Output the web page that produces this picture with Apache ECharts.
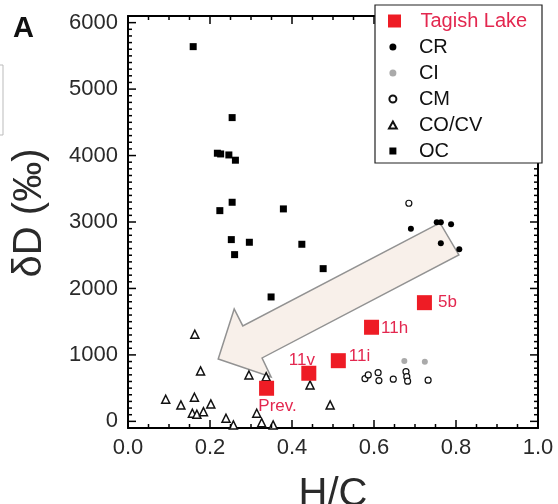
<!DOCTYPE html>
<html>
<head>
<meta charset="utf-8">
<script src="https://cdn.jsdelivr.net/npm/echarts@6/dist/echarts.min.js"></script>
<style>
  html, body { margin: 0; padding: 0; background: #fff; }
  #chart { width: 558px; height: 504px; }
</style>
</head>
<body>
<div id="chart"></div>
<script>
// values (H/C vs deltaD)
var tagishX = [0.723, 0.594, 0.513, 0.441, 0.338];
var tagishY = [1786, 1416, 913, 724, 498];
var tagishNames = ['5b', '11h', '11i', '11v', 'Prev.'];

var crX = [0.690, 0.753, 0.763, 0.788, 0.763, 0.808];
var crY = [2900, 2996, 2996, 2966, 2680, 2590];

var ciX = [0.674, 0.724];
var ciY = [909, 898];

var cmX = [0.685, 0.578, 0.586, 0.610, 0.612, 0.647, 0.678, 0.680, 0.682, 0.732];
var cmY = [3282, 643, 698, 733, 613, 634, 748, 673, 604, 619];

var cocvX = [0.092, 0.129, 0.162, 0.157, 0.168, 0.184, 0.202, 0.239, 0.257, 0.314, 0.326, 0.354, 0.163, 0.177, 0.295, 0.337, 0.444, 0.493];
var cocvY = [333, 247, 363, 122, 107, 146, 262, 47, -54, 122, -20, -54, 1311, 759, 698, 673, 548, 247];

var ocX = [0.159, 0.254, 0.218, 0.226, 0.246, 0.262, 0.254, 0.224, 0.379, 0.252, 0.296, 0.424, 0.260, 0.476, 0.349];
var ocY = [5639, 4571, 4035, 4024, 4009, 3930, 3297, 3171, 3197, 2735, 2695, 2665, 2509, 2298, 1872];

// big hollow arrow, in data units
var arrowX = [0.761, 0.280, 0.259, 0.220, 0.349, 0.327, 0.807];
var arrowY = [2986, 1436, 1692, 939, 668, 954, 2504];

// tick marks: minor every 100 / 0.05, major every 1000 / 0.2
var yTickVals = [];
for (var v = 0; v <= 6000; v += 100) yTickVals.push(v);
var xTickVals = [];
for (var k = 0; k <= 20; k++) xTickVals.push(k / 20);

function pairs(xs, ys) {
    return xs.map(function (x, i) { return [x, ys[i]]; });
}

var FONT = 'Liberation Sans, Arial, sans-serif';
var RED = '#ee1c25';
var LABEL_RED = '#e3274f';
var TXT = '#2a2a2a';

// plot box in pixels; y runs -100..6100 so the 0..6000 ticks sit a bit inside
var L = 128, T = 16, R = 538, B = 428;
var yLo = -100, yHi = 6100;
var pxPerUnit = (B - T) / (yHi - yLo);

// label placement for the Tagish Lake points
var labelPlace = {
    '5b': { position: 'right', distance: 6, offset: [0, 0] },
    '11h': { position: 'right', distance: 2, offset: [0, 1] },
    '11i': { position: 'right', distance: 3, offset: [0, -4] },
    '11v': { position: 'top', distance: 0, offset: [-7, 3] },
    'Prev.': { position: 'bottom', distance: 2, offset: [11, 0] }
};

var tagishData = tagishX.map(function (x, i) {
    var p = labelPlace[tagishNames[i]];
    return {
        value: [x, tagishY[i], tagishNames[i]],
        label: { position: p.position, distance: p.distance, offset: p.offset }
    };
});

var SQUARE = 'path://M0,0L10,0L10,10L0,10Z';
var TRI = 'path://M5,0L10,9L0,9Z';

var chart = echarts.init(document.getElementById('chart'));

var frameLine = { show: true, onZero: false, lineStyle: { color: '#000', width: 2 } };

function xAxisDef(pos, showLabel, extra) {
    var a = {
        type: 'value', gridIndex: 0, position: pos, min: 0, max: 1, interval: 0.2,
        splitLine: { show: false }, axisLine: frameLine, axisTick: { show: false },
        axisLabel: { show: showLabel, margin: 9, fontSize: 22, color: TXT, fontFamily: FONT,
            formatter: function (v) { return v.toFixed(1); } }
    };
    return Object.assign(a, extra || {});
}

function yFrame(pos) {
    return {
        type: 'value', gridIndex: 0, position: pos, min: yLo, max: yHi,
        splitLine: { show: false }, axisLine: frameLine,
        axisTick: { show: false }, axisLabel: { show: false }
    };
}

// label axis on a grid that spans exactly 0..6000
function yLabels(pos, showLabel) {
    return {
        type: 'value', gridIndex: 1, position: pos, min: 0, max: 6000, interval: 1000,
        splitLine: { show: false }, axisLine: { show: false }, axisTick: { show: false },
        axisLabel: { show: showLabel, margin: 10, fontSize: 22, color: TXT, fontFamily: FONT,
            formatter: function (v) { return String(v); } }
    };
}

function tickLine(x1, y1, x2, y2) {
    return { type: 'line', shape: { x1: x1, y1: y1, x2: x2, y2: y2 },
             style: { stroke: '#000', lineWidth: 1.5 } };
}

var option = {
    animation: false,
    backgroundColor: '#fff',
    grid: [
        { left: L, top: T, width: R - L, height: B - T, outerBoundsMode: 'none', containLabel: false },
        { left: L, top: T + (yHi - 6000) * pxPerUnit, width: R - L,
          height: 6000 * pxPerUnit, outerBoundsMode: 'none', containLabel: false }
    ],
    xAxis: [
        xAxisDef('bottom', true, {
            name: 'H/C', nameLocation: 'middle', nameGap: 47,
            nameTextStyle: { fontSize: 40, color: TXT, fontFamily: FONT }
        }),
        xAxisDef('top', false),
        { type: 'value', gridIndex: 1, min: 0, max: 1, show: false }
    ],
    yAxis: [
        yFrame('left'),
        yFrame('right'),
        yLabels('left', true),
        yLabels('right', false)
    ],
    legend: [
        {
            z: 8, left: 388, top: 11, padding: 0, orient: 'vertical',
            itemWidth: 42, itemHeight: 13, selectedMode: false, symbolKeepAspect: true,
            textStyle: { fontSize: 20, fontFamily: FONT, color: LABEL_RED },
            data: [{ name: 'Tagish Lake', icon: SQUARE }]
        },
        {
            z: 8, left: 388, top: 37, padding: 0, orient: 'vertical', itemGap: 6,
            itemWidth: 42, itemHeight: 7, selectedMode: false, symbolKeepAspect: true,
            textStyle: { fontSize: 20, fontFamily: FONT, color: '#111' },
            data: ['CR', 'CI', 'CM', { name: 'CO/CV', icon: TRI }, { name: 'OC', icon: SQUARE }]
        }
    ],
    graphic: [
        { type: 'rect', z: 6, shape: { x: 375, y: 5, width: 167, height: 158 },
          style: { fill: '#fff', stroke: '#222', lineWidth: 1.2 } },
        { type: 'text', left: 13, top: 14, z: 6,
          style: { text: 'A', font: 'bold 29px ' + FONT, fill: '#111' } },
        { type: 'text', x: 30, y: 213, rotation: Math.PI / 2, z: 6,
          style: { text: 'δD (‰)', font: '40px ' + FONT, fill: TXT, align: 'center', verticalAlign: 'middle' } },
        { type: 'rect', z: 1, shape: { x: -10, y: 65, width: 13, height: 70 },
          style: { fill: 'none', stroke: '#bbb', lineWidth: 1 } }
    ],
    series: [
        {
            name: 'arrow', type: 'custom', z: 1, silent: true,
            xAxisIndex: 0, yAxisIndex: 0,
            data: [[0, 0]],
            renderItem: function (params, api) {
                var pts = arrowX.map(function (x, i) { return api.coord([x, arrowY[i]]); });
                return {
                    type: 'polygon',
                    shape: { points: pts },
                    style: { fill: '#f8f0ea', stroke: '#929292', lineWidth: 1.5 }
                };
            }
        },
        {
            // inward ticks on the left and right frame
            name: 'yticks', type: 'custom', z: 5, silent: true, clip: false,
            xAxisIndex: 0, yAxisIndex: 0,
            data: yTickVals.map(function (v) { return [0, v]; }),
            renderItem: function (params, api) {
                var v = api.value(1);
                var len = (v % 1000 === 0) ? 8 : 4;
                var a = api.coord([0, v]), b = api.coord([1, v]);
                return { type: 'group', children: [
                    tickLine(a[0], a[1], a[0] + len, a[1]),
                    tickLine(b[0], b[1], b[0] - len, b[1])
                ] };
            }
        },
        {
            // inward ticks on the top and bottom frame
            name: 'xticks', type: 'custom', z: 5, silent: true, clip: false,
            xAxisIndex: 0, yAxisIndex: 0,
            data: xTickVals.map(function (v) { return [v, 0]; }),
            renderItem: function (params, api) {
                var v = api.value(0);
                var major = Math.abs(v * 5 - Math.round(v * 5)) < 1e-6;
                var len = major ? 8 : 4;
                var a = api.coord([v, yLo]), b = api.coord([v, yHi]);
                return { type: 'group', children: [
                    tickLine(a[0], a[1], a[0], a[1] - len),
                    tickLine(b[0], b[1], b[0], b[1] + len)
                ] };
            }
        },
        {
            name: 'CO/CV', type: 'scatter', z: 3, xAxisIndex: 0, yAxisIndex: 0,
            symbol: 'triangle', symbolSize: 8,
            itemStyle: { color: '#fff', borderColor: '#111', borderWidth: 1.5, opacity: 1 },
            data: pairs(cocvX, cocvY)
        },
        {
            name: 'OC', type: 'scatter', z: 3, xAxisIndex: 0, yAxisIndex: 0,
            symbol: 'rect', symbolSize: 7,
            itemStyle: { color: '#000', opacity: 1 },
            data: pairs(ocX, ocY)
        },
        {
            name: 'CR', type: 'scatter', z: 3, xAxisIndex: 0, yAxisIndex: 0,
            symbol: 'circle', symbolSize: 6,
            itemStyle: { color: '#000', opacity: 1 },
            data: pairs(crX, crY)
        },
        {
            name: 'CI', type: 'scatter', z: 3, xAxisIndex: 0, yAxisIndex: 0,
            symbol: 'circle', symbolSize: 6,
            itemStyle: { color: '#aaaaaa', opacity: 1 },
            data: pairs(ciX, ciY)
        },
        {
            name: 'CM', type: 'scatter', z: 3, xAxisIndex: 0, yAxisIndex: 0,
            symbol: 'circle', symbolSize: 6,
            itemStyle: { color: '#fff', borderColor: '#111', borderWidth: 1.2, opacity: 1 },
            data: pairs(cmX, cmY)
        },
        {
            name: 'Tagish Lake', type: 'scatter', z: 4, xAxisIndex: 0, yAxisIndex: 0,
            symbol: 'rect', symbolSize: 15,
            itemStyle: { color: RED, opacity: 1 },
            label: {
                show: true, fontSize: 17, fontFamily: FONT, color: LABEL_RED,
                formatter: function (p) { return p.value[2]; }
            },
            data: tagishData
        }
    ]
};

chart.setOption(option);
</script>
</body>
</html>
